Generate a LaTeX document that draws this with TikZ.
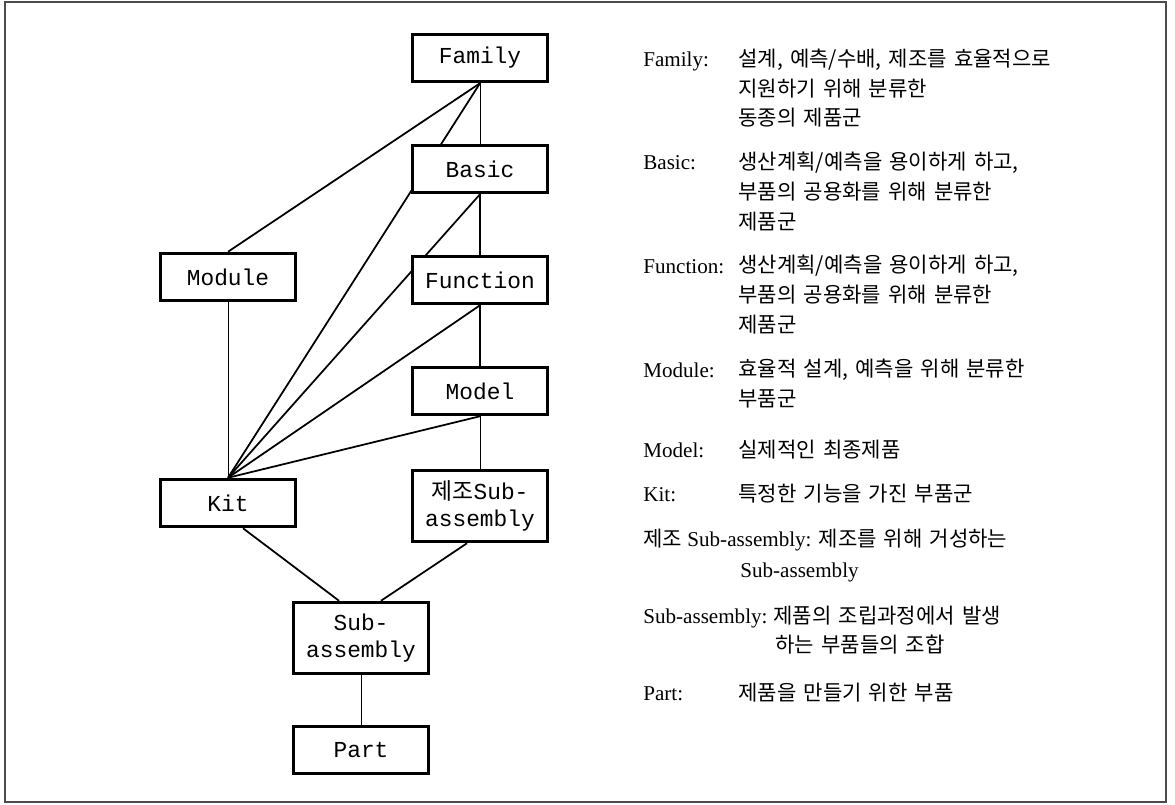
\documentclass[tikz,border=0pt]{standalone}
\usepackage{fontspec}
\setmainfont{Liberation Serif}
\newfontfamily\hangul[WordSpace=1.5]{Noto Sans CJK KR}
\newfontfamily\boxfont{Liberation Mono}
\usetikzlibrary{backgrounds}

\begin{document}
\begin{tikzpicture}[x=0.02cm,y=-0.02cm,
 every node/.style={inner sep=0pt},
 item/.style={rectangle,draw=black,line width=2pt,fill=white,minimum width=2.7cm,minimum height=0.94cm,align=center,font=\boxfont\fontsize{13}{15.5}\selectfont},
 item2/.style={item,minimum height=1.42cm},
 link/.style={line width=1pt},
 thinlink/.style={line width=0.5pt},
 term/.style={anchor=base west,font=\fontsize{12}{16.8}\selectfont},
 desc/.style={anchor=base west,align=left,font=\hangul\fontsize{12}{16.8}\selectfont},
]
  \useasboundingbox (0,0) rectangle (1175,804);
  \draw[line width=1.2pt,black!70] (5,2) rectangle (1166,802);

  % hierarchy
  \node[item] (family) at (480,58) {Family};
  \node[item] (basic) at (480,169) {Basic};
  \node[item] (function) at (480,280) {Function};
  \node[item] (model) at (480,391) {Model};
  \node[item2] (mfgsub) at (480,506) {{\hangul 제조}Sub-\\assembly};
  \node[item] (module) at (228,277) {Module};
  \node[item] (kit) at (228,503) {Kit};
  \node[item2] (subasm) at (361,638) {Sub-\\assembly};
  \node[item] (part) at (361,750) {Part};

  \begin{scope}[on background layer]
    \draw[thinlink] (family) -- (basic);
    \draw[link] (family.south) -- (module.north);
    \draw[link] (family.south) -- (kit.north);
    \draw[link] (basic) -- (function);
    \draw[link] (basic.south) -- (kit.north);
    \draw[link] (function) -- (model);
    \draw[link] (function.south) -- (kit.north);
    \draw[link] (model.south) -- (kit.north);
    \draw[thinlink] (model) -- (mfgsub);
    \draw[thinlink] (module) -- (kit);
    \draw[link] ([xshift=0.3cm]kit.south) -- ([xshift=-0.44cm]subasm.north);
    \draw[link] ([xshift=-0.26cm]mfgsub.south) -- ([xshift=0.4cm]subasm.north);
    \draw[thinlink] (subasm) -- (part);
  \end{scope}

  % legend (multi-line texts sit on their last baseline)
  \node[term] (tfamily) at (643,67) {Family:};
  \node[desc] (dfamily) at (738,126) {설계, 예측/수배, 제조를 효율적으로\\지원하기 위해 분류한\\동종의 제품군};
  \node[term] (tbasic) at (643,170) {Basic:};
  \node[desc] (dbasic) at (738,229) {생산계획/예측을 용이하게 하고,\\부품의 공용화를 위해 분류한\\제품군};
  \node[term] (tfunction) at (643,273) {Function:};
  \node[desc] (dfunction) at (738,332) {생산계획/예측을 용이하게 하고,\\부품의 공용화를 위해 분류한\\제품군};
  \node[term] (tmodule) at (643,377) {Module:};
  \node[desc] (dmodule) at (738,406.5) {효율적 설계, 예측을 위해 분류한\\부품군};
  \node[term] (tmodel) at (643,457) {Model:};
  \node[desc] (dmodel) at (738,457) {실제적인 최종제품};
  \node[term] (tkit) at (643,501) {Kit:};
  \node[desc] (dkit) at (738,501) {특정한 기능을 가진 부품군};
  \node[term] (tmfgsub) at (643,546) {{\hangul 제조} Sub-assembly: {\hangul 제조를 위해 거성하는}};
  \node[term] (tmfgsub2) at (740,577) {Sub-assembly};
  \node[term] (tsubasm) at (643,623) {Sub-assembly:};
  \node[desc] (dsubasm) at (773,623) {제품의 조립과정에서 발생};
  \node[desc] (dsubasm2) at (775,652) {하는 부품들의 조합};
  \node[term] (tpart) at (643,700) {Part:};
  \node[desc] (dpart) at (738,700) {제품을 만들기 위한 부품};
\end{tikzpicture}
\end{document}
